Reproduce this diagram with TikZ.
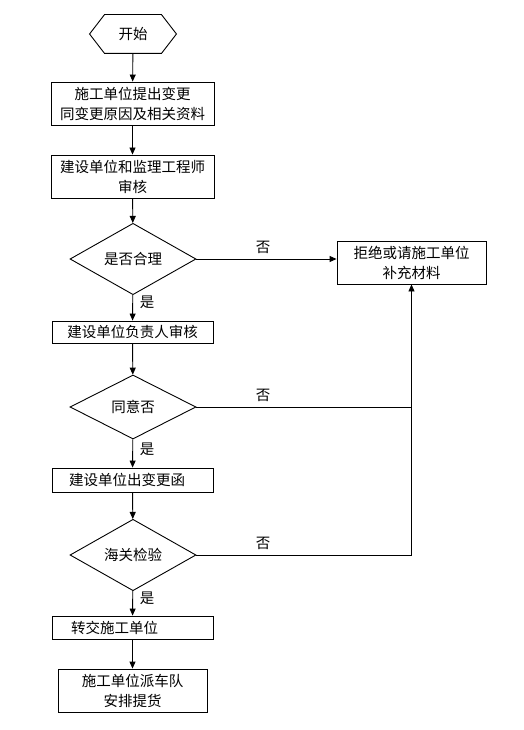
\documentclass[tikz,border=0pt]{standalone}
\usepackage{fontspec}
\newfontfamily\cjk{Noto Sans CJK SC}
\usetikzlibrary{shapes.geometric,arrows.meta}
\begin{document}
\begin{tikzpicture}[x=1pt,y=-1pt, line width=0.9pt,
  every node/.style={font=\cjk\fontsize{14.5}{20}\selectfont},
  box/.style={draw, rectangle, inner sep=0pt, align=center},
  dec/.style={draw, diamond, inner sep=0pt, minimum width=126pt, minimum height=64pt},
  arr/.style={-{Triangle[width=6pt,length=7pt]}},
  lbl/.style={inner sep=0pt}]
\useasboundingbox[fill=white] (0,0) rectangle (524,730);

\node[inner sep=0pt, minimum width=86pt, minimum height=38pt] (start) at (133,34) {开始};
\draw (start.west) -- ([xshift=15pt]start.north west) -- ([xshift=-15pt]start.north east)
  -- (start.east) -- ([xshift=-15pt]start.south east) -- ([xshift=15pt]start.south west) -- cycle;

\node[box, minimum width=163pt, minimum height=43pt] (b1) at (132.5,103.5) {施工单位提出变更\\同变更原因及相关资料};
\node[box, minimum width=163pt, minimum height=43pt] (b2) at (132.5,176.5) {建设单位和监理工程师\\审核};
\node[dec] (d1) at (133,259) {是否合理};
\node[box, minimum width=149pt, minimum height=43pt] (rej) at (411.5,262.5) {拒绝或请施工单位\\补充材料};
\node[box, minimum width=161pt, minimum height=22pt] (b3) at (132.5,332) {建设单位负责人审核};
\node[dec] (d2) at (133,407) {同意否};
\node[box, align=left, inner xsep=17pt, text width=127pt, minimum height=24pt] (b4) at (132.5,480) {建设单位出变更函};
\node[dec] (d3) at (133,555) {海关检验};
\node[box, align=left, inner xsep=19pt, text width=123pt, minimum height=23pt] (b5) at (132.5,627.5) {转交施工单位};
\node[box, minimum width=149pt, minimum height=43pt] (b6) at (132.5,690.5) {施工单位派车队\\安排提货};

\node[lbl] (n1) at (263,247) {否};
\node[lbl] (n2) at (263,395) {否};
\node[lbl] (n3) at (263,543) {否};
\node[lbl] (y1) at (147,302) {是};
\node[lbl] (y2) at (147,449) {是};
\node[lbl] (y3) at (147,598) {是};

\draw[arr] (start) -- (b1);
\draw[arr] (b1) -- (b2);
\draw[arr] (b2) -- (d1);
\draw[arr] (d1) -- (b3);
\draw[arr] (b3) -- (d2);
\draw[arr] (d2) -- (b4);
\draw[arr] (b4) -- (d3);
\draw[arr] (d3) -- (b5);
\draw[arr] (b5) -- (b6);
\draw[arr] (d1.east) -- (d1.east -| rej.west);
\draw[arr] (d3.east) -| (rej.south);
\draw (d2.east) -- (d2.east -| rej.south);
\end{tikzpicture}
\end{document}
